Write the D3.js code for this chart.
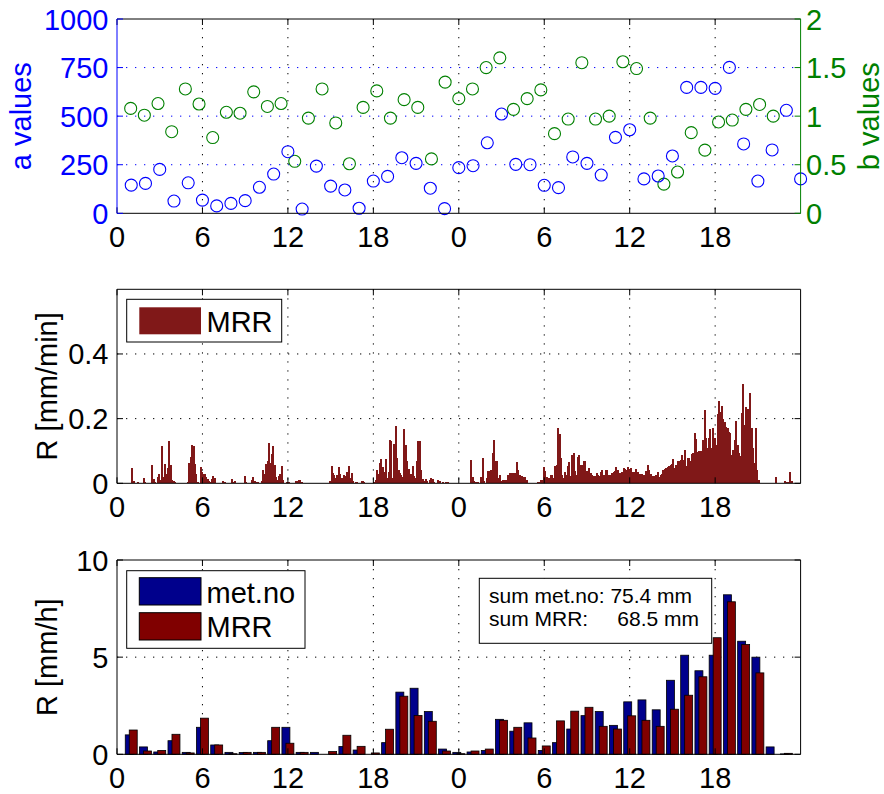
<!DOCTYPE html>
<html><head><meta charset="utf-8">
<script src="https://cdn.jsdelivr.net/npm/d3@7/dist/d3.min.js"></script>
<style>
body{margin:0;background:#fff;}
text{font-family:"Liberation Sans",Arial,Helvetica,sans-serif;}
</style></head><body>
<svg id="chart" width="884" height="794"></svg>
<script>
// ---------- DATA ----------
const hours = d3.range(1, 49);
const aValues = [145,154,226,63,157,68,38,51,65,134,202,317,22,243,140,120,26,166,190,286,257,129,24,235,
                 245,363,511,252,250,144,132,290,257,197,391,430,177,192,295,648,648,643,751,357,166,326,530,177];
const bValues = [1.08,1.01,1.13,0.84,1.28,1.125,0.78,1.04,1.03,1.25,1.10,1.13,0.535,0.98,1.28,0.93,0.51,1.09,1.26,0.98,1.17,1.09,0.56,1.35,
                 1.18,1.28,1.50,1.60,1.07,1.18,1.27,0.82,0.97,1.55,0.97,1.00,1.56,1.49,0.98,0.30,0.425,0.83,0.65,0.94,0.96,1.07,1.12,1.00];
const xTickValues = [0,6,12,18,24,30,36,42];
const xTickLabels = ["0","6","12","18","0","6","12","18"];
const aTicks = [0,250,500,750,1000];
const bTicks = [0,0.5,1,1.5,2];
const bTickLabels = ["0","0.5","1","1.5","2"];

// MRR rain rate, 6-minute steps (10 per hour), mm/min
const mrrRate = [
 0,0,0,0,0,0,0,0,0,0,
 0.048,0.008,0,0,0.004,0,0,0,0.017,0.004,
 0,0,0,0,0.056,0.012,0.004,0,0.02,0.029,
 0.01,0.114,0.02,0.06,0.03,0.048,0.132,0.056,0.01,0.008,
 0.004,0,0,0,0,0,0,0,0,0.005,
 0.063,0.08,0.119,0.115,0.06,0.03,0.005,0,0.05,0.034,
 0.03,0.03,0.02,0.012,0.008,0.005,0.012,0.024,0.015,0,
 0,0,0,0,0.007,0.004,0,0,0,0,
 0.014,0.004,0.006,0,0,0,0,0,0,0.023,
 0.005,0,0,0,0.01,0.02,0.008,0.004,0.004,0,
 0,0.008,0.04,0.03,0.06,0.07,0.126,0.063,0.09,0.115,
 0.058,0.02,0.01,0.022,0.03,0.052,0.01,0,0,0.004,
 0.004,0,0,0,0,0.006,0.006,0.011,0.011,0.004,
 0,0,0,0,0,0,0,0,0,0,
 0,0,0,0,0,0,0,0,0,0.008,
 0.054,0.032,0.025,0.016,0.025,0.05,0.03,0.016,0.013,0.025,
 0.022,0.035,0.052,0.016,0.032,0.006,0,0.004,0.004,0,
 0,0.006,0.006,0.005,0,0,0,0,0,0,
 0.005,0.01,0.04,0.03,0.063,0.075,0.05,0.035,0.075,0.017,
 0.034,0.134,0.13,0.017,0.122,0.176,0.079,0.042,0.031,0.027,
 0.021,0.167,0.12,0.07,0.045,0.023,0.03,0.054,0.024,0.017,
 0.07,0.132,0.13,0.04,0.014,0.006,0.014,0.006,0.002,0.011,
 0.016,0.014,0.005,0,0,0.01,0.006,0,0.004,0,
 0.004,0.004,0.004,0.002,0,0,0,0,0,0,
 0.002,0.002,0,0,0,0,0,0,0.073,0.02,
 0.006,0.004,0.004,0.004,0,0.02,0.079,0.006,0,0.015,
 0.037,0.037,0.04,0.093,0.134,0.068,0.068,0.016,0.027,0.008,
 0.011,0.011,0.011,0.011,0.025,0.032,0.032,0.032,0.022,0.032,
 0.065,0.04,0.025,0.024,0.022,0.02,0.02,0.011,0,0,
 0,0,0,0,0.002,0.004,0.004,0.011,0.011,0.05,
 0.037,0.02,0.016,0.016,0.025,0.025,0.016,0.053,0.056,0.17,
 0.151,0.079,0.027,0.016,0.035,0.027,0.053,0.066,0.022,0.089,
 0.093,0.037,0.027,0.08,0.087,0.056,0.058,0.068,0.07,0.037,
 0.032,0.048,0.032,0.027,0.024,0.024,0.032,0.025,0.024,0.034,
 0.042,0.025,0.02,0.042,0.022,0.027,0.027,0.032,0.034,0.039,
 0.05,0.042,0.032,0.032,0.034,0.047,0.044,0.042,0.049,0.045,
 0.048,0.035,0.035,0.035,0.044,0.035,0.03,0.03,0.03,0.027,
 0.027,0.037,0.056,0.04,0.03,0.022,0.022,0.022,0.027,0.035,
 0.02,0.025,0.03,0.042,0.045,0.048,0.05,0.055,0.057,0.06,
 0.076,0.048,0.056,0.068,0.068,0.073,0.087,0.073,0.103,0.055,
 0.078,0.078,0.068,0.09,0.094,0.156,0.137,0.097,0.1,0.099,
 0.089,0.135,0.228,0.14,0.109,0.14,0.168,0.11,0.17,0.14,
 0.12,0.213,0.254,0.22,0.239,0.2,0.19,0.173,0.171,0.16,
 0.155,0.089,0.104,0.135,0.192,0.12,0.094,0.085,0.216,0.306,
 0.18,0.236,0.229,0.15,0.28,0.17,0.11,0.063,0.172,0.042,
 0.011,0,0,0,0,0,0,0,0,0,
 0,0,0.019,0,0,0,0,0,0.006,0,
 0.003,0.003,0.034,0.006,0,0,0,0,0,0
];
const rateStepHours = 0.1;
const rateTicks = [0,0.2,0.4];
const rateTickLabels = ["0","0.2","0.4"];

// hourly sums, mm/h
const barHours = d3.range(1, 48);
const metnoHourly = [1.0,0.38,0.12,0.7,0.1,1.39,0.48,0.1,0.09,0.1,0.7,1.39,0.1,0.1,0,0.4,0.22,0,0.6,3.2,3.4,2.2,0.27,0.1,
                     0.12,0.2,1.8,1.19,1.62,0.2,0.6,1.3,1.99,2.2,1.49,2.7,2.8,2.29,3.81,5.1,4.3,5.1,8.21,5.82,5.0,0.38,0.02];
const mrrHourly   = [1.25,0.17,0.2,1.03,0.07,1.86,0.48,0.03,0.1,0.1,1.39,0.57,0.1,0,0.14,0.98,0.41,0.07,1.29,2.99,2.0,1.7,0.17,0.03,
                     0.17,0.27,1.75,1.39,0.84,0.43,1.72,2.22,2.42,1.44,1.3,1.98,1.75,1.44,2.32,3.04,3.99,6.0,7.85,5.65,4.19,0,0.05];
const hourTicks = [0,5,10];
const sumLines = ["sum met.no: 75.4 mm", "sum MRR:     68.5 mm"];

// ---------- LAYOUT ----------
const svg = d3.select("#chart");
const FS = 29;
const L = 117, R = 800.6;
const BLUE = "#0000ff", GREEN = "#008000", DRED = "#801818", RED = "#800000", DBLUE = "#00008c";
const x = d3.scaleLinear().domain([0,48]).range([L,R]);
const xB = d3.scaleLinear().domain([0,50]).range([L,R]);   // second axes of the top panel
const P1 = {top:19, bottom:213.3}, P2 = {top:289.3, bottom:483.3}, P3 = {top:560, bottom:754.3};
const yA = d3.scaleLinear().domain([0,1000]).range([P1.bottom,P1.top]);
const yBv = d3.scaleLinear().domain([0,2]).range([P1.bottom,P1.top]);
const yR = d3.scaleLinear().domain([0,0.6]).range([P2.bottom,P2.top]);
const yH = d3.scaleLinear().domain([0,10]).range([P3.bottom,P3.top]);
const DASH = "1.3,7.7";
const TL = 6;

function vGrid(P){
  svg.append("g").selectAll("line").data(xTickValues.filter(v=>v>0)).join("line")
    .attr("x1",d=>x(d)).attr("x2",d=>x(d)).attr("y1",P.top).attr("y2",P.bottom)
    .attr("stroke","#000").attr("stroke-width",1).attr("stroke-dasharray",DASH);
}
function hGrid(vals, y, color){
  svg.append("g").selectAll("line").data(vals).join("line")
    .attr("x1",L).attr("x2",R).attr("y1",d=>y(d)).attr("y2",d=>y(d))
    .attr("stroke",color).attr("stroke-width",1).attr("stroke-dasharray",DASH);
}
function xAxis(P){
  const g = svg.append("g");
  g.selectAll("line.b").data(xTickValues).join("line").attr("class","b")
    .attr("x1",d=>x(d)).attr("x2",d=>x(d)).attr("y1",P.bottom).attr("y2",P.bottom-TL).attr("stroke","#000");
  g.selectAll("line.t").data(xTickValues).join("line").attr("class","t")
    .attr("x1",d=>x(d)).attr("x2",d=>x(d)).attr("y1",P.top).attr("y2",P.top+TL).attr("stroke","#000");
  g.selectAll("text").data(xTickValues).join("text")
    .attr("x",d=>x(d)).attr("y",P.bottom+34).attr("text-anchor","middle")
    .attr("font-size",FS).attr("fill","#000").text((d,i)=>xTickLabels[i]);
  g.append("line").attr("x1",L).attr("x2",R).attr("y1",P.bottom).attr("y2",P.bottom).attr("stroke","#000");
  g.append("line").attr("x1",L).attr("x2",R).attr("y1",P.top).attr("y2",P.top).attr("stroke","#000");
}
function yAxisLeft(vals, labels, y, color, both){
  const g = svg.append("g");
  g.selectAll("line.l").data(vals).join("line").attr("class","l")
    .attr("x1",L).attr("x2",L+TL).attr("y1",d=>y(d)).attr("y2",d=>y(d)).attr("stroke",color);
  if(both){
    g.selectAll("line.r").data(vals).join("line").attr("class","r")
      .attr("x1",R).attr("x2",R-TL).attr("y1",d=>y(d)).attr("y2",d=>y(d)).attr("stroke",color);
  }
  g.selectAll("text").data(vals).join("text")
    .attr("x",108.5).attr("y",d=>y(d)+10.5).attr("text-anchor","end")
    .attr("font-size",FS).attr("fill",color).text((d,i)=>labels[i]);
  const yr = y.range();
  g.append("line").attr("x1",L).attr("x2",L).attr("y1",yr[0]).attr("y2",yr[1]).attr("stroke",color);
  if(both) g.append("line").attr("x1",R).attr("x2",R).attr("y1",yr[0]).attr("y2",yr[1]).attr("stroke",color);
}
function yLabel(txt, xPos, P, color){
  svg.append("text").attr("transform",`translate(${xPos},${(P.top+P.bottom)/2}) rotate(-90)`)
    .attr("text-anchor","middle").attr("font-size",FS).attr("fill",color).text(txt);
}

// ---------- PANEL 1 ----------
hGrid([250,500,750], yA, BLUE);
vGrid(P1);
svg.append("g").selectAll("circle").data(bValues).join("circle")
  .attr("cx",(d,i)=>xB(hours[i])).attr("cy",d=>yBv(d)).attr("r",6)
  .attr("fill","none").attr("stroke",GREEN).attr("stroke-width",1.1);
svg.append("g").selectAll("circle").data(aValues).join("circle")
  .attr("cx",(d,i)=>x(hours[i])).attr("cy",d=>yA(d)).attr("r",6)
  .attr("fill","none").attr("stroke",BLUE).attr("stroke-width",1.1);
xAxis(P1);
yAxisLeft(aTicks, aTicks.map(String), yA, BLUE, false);
{
  const g = svg.append("g");
  g.selectAll("line").data(bTicks).join("line")
    .attr("x1",R).attr("x2",R-TL).attr("y1",d=>yBv(d)).attr("y2",d=>yBv(d)).attr("stroke",GREEN);
  g.selectAll("text").data(bTicks).join("text")
    .attr("x",806).attr("y",d=>yBv(d)+10.5).attr("text-anchor","start")
    .attr("font-size",FS).attr("fill",GREEN).text((d,i)=>bTickLabels[i]);
  g.append("line").attr("x1",R).attr("x2",R).attr("y1",P1.top).attr("y2",P1.bottom).attr("stroke",GREEN);
}
yLabel("a values", 31, P1, BLUE);
yLabel("b values", 879, P1, GREEN);

// ---------- PANEL 2 ----------
hGrid([0.2,0.4], yR, "#000");
vGrid(P2);
svg.append("g").attr("shape-rendering","crispEdges")
  .selectAll("rect").data(mrrRate.map((v,i)=>({t:i*rateStepHours,v})).filter(d=>d.v>0)).join("rect")
  .attr("x",d=>x(d.t)).attr("width",d=>x(d.t+rateStepHours)-x(d.t)+0.6)
  .attr("y",d=>yR(d.v)).attr("height",d=>yR(0)-yR(d.v)).attr("fill",DRED);
xAxis(P2);
yAxisLeft(rateTicks, rateTickLabels, yR, "#000", true);
yLabel("R [mm/min]", 57, P2, "#000");
{
  const g = svg.append("g");
  g.append("rect").attr("x",126.7).attr("y",299.3).attr("width",155).attr("height",42.7)
    .attr("fill","#fff").attr("stroke","#000");
  g.append("rect").attr("x",139.3).attr("y",307.3).attr("width",61.7).attr("height",27).attr("fill",DRED);
  g.append("text").attr("x",206.5).attr("y",331.5).attr("font-size",FS).attr("fill","#000").text("MRR");
}

// ---------- PANEL 3 ----------
hGrid([5], yH, "#000");
vGrid(P3);
const bw = 0.56, off = 0.14;
svg.append("g").selectAll("rect").data(metnoHourly).join("rect")
  .attr("x",(d,i)=>x(barHours[i]-off-bw/2)).attr("width",x(bw)-x(0))
  .attr("y",d=>yH(d)).attr("height",d=>yH(0)-yH(d))
  .attr("fill",DBLUE).attr("stroke","#000").attr("stroke-width",0.8);
svg.append("g").selectAll("rect").data(mrrHourly).join("rect")
  .attr("x",(d,i)=>x(barHours[i]+off-bw/2)).attr("width",x(bw)-x(0))
  .attr("y",d=>yH(d)).attr("height",d=>yH(0)-yH(d))
  .attr("fill",RED).attr("stroke","#000").attr("stroke-width",0.8);
xAxis(P3);
yAxisLeft(hourTicks, hourTicks.map(String), yH, "#000", true);
yLabel("R [mm/h]", 57, P3, "#000");
{
  const g = svg.append("g");
  g.append("rect").attr("x",126.7).attr("y",570.7).attr("width",178.3).attr("height",77.6)
    .attr("fill","#fff").attr("stroke","#000");
  g.append("rect").attr("x",139.3).attr("y",577.7).attr("width",61.7).attr("height",27.3)
    .attr("fill",DBLUE).attr("stroke","#000");
  g.append("rect").attr("x",139.3).attr("y",612.7).attr("width",61.7).attr("height",27.3)
    .attr("fill",RED).attr("stroke","#000");
  g.append("text").attr("x",206.5).attr("y",602.5).attr("font-size",FS).attr("fill","#000").text("met.no");
  g.append("text").attr("x",206.5).attr("y",637.3).attr("font-size",FS).attr("fill","#000").text("MRR");

  g.append("rect").attr("x",479.3).attr("y",578.3).attr("width",232.4).attr("height",65)
    .attr("fill","#fff").attr("stroke","#000");
  g.selectAll("text.s").data(sumLines).join("text").attr("class","s")
    .attr("x",489).attr("y",(d,i)=>603.3+i*22.7).attr("font-size",21).attr("fill","#000")
    .style("white-space","pre").text(d=>d);
}
</script>
</body></html>
